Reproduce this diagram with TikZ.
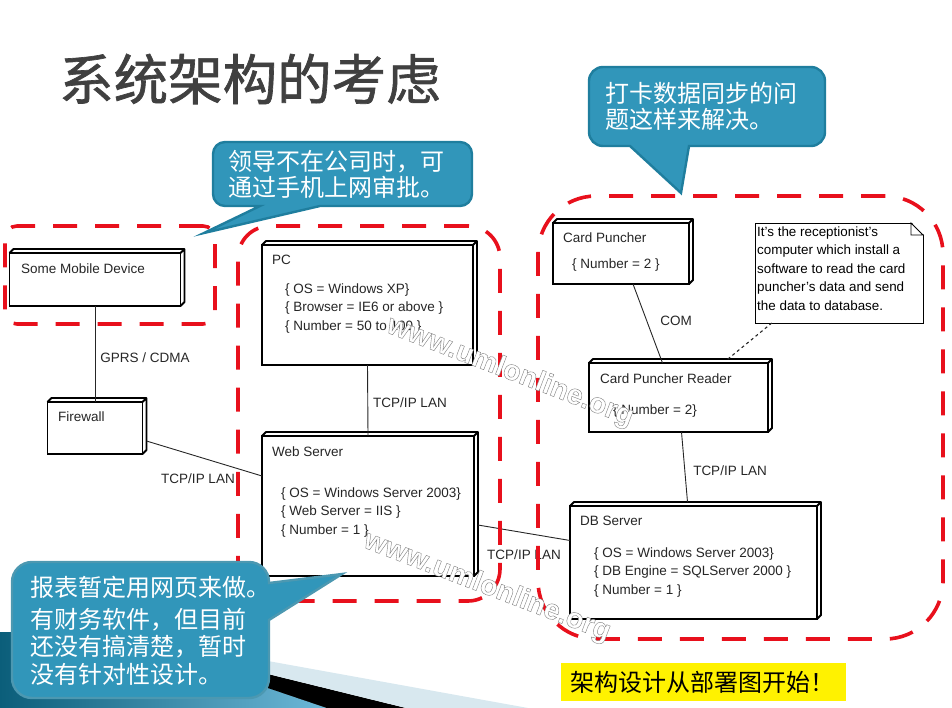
\documentclass[tikz,border=0pt]{standalone}
\usepackage{fontspec}
\usepackage{xcolor}
\setmainfont{Liberation Sans}
\newfontfamily\cjk{Noto Sans CJK SC}
\newfontfamily\cjktitle[FakeBold=1.2]{Noto Sans CJK SC}
\newfontfamily\wmfont[FakeBold=1.4]{Liberation Sans Bold}
\usetikzlibrary{calc,positioning}

\definecolor{bubblefill}{HTML}{3196BA}
\definecolor{bubbleline}{HTML}{1F7E9E}
\definecolor{zonered}{HTML}{E8101C}
\definecolor{inktext}{HTML}{262626}
\definecolor{banddark}{HTML}{0B5E7A}
\definecolor{bandlight}{HTML}{6DB8D8}
\definecolor{bandpale}{HTML}{D8E8EF}

\newcommand{\wmark}[1]{{\wmfont\special{pdf:code 0.5 0.5 0.5 RG}#1}}

\tikzset{
	device/.style={draw=black,line width=1.9pt,fill=white,inner sep=0pt,outer sep=0pt,anchor=north west},
	zone/.style={draw=zonered,line width=3.6pt,dash pattern=on 24pt off 18pt,inner sep=0pt,outer sep=0pt,anchor=north west},
	bubble/.style={draw=bubbleline,line width=2.4pt,fill=bubblefill},
	bubbletext/.style={text=white,inner sep=0pt,anchor=north west,align=left,font=\cjk\fontsize{24}{26}\selectfont},
	devtitle/.style={text=inktext,inner sep=0pt,anchor=west,font=\fontsize{13.5}{15}\selectfont},
	devattr/.style={text=inktext,inner sep=0pt,anchor=north west,align=left,font=\fontsize{13.5}{18.5}\selectfont},
	linklabel/.style={text=inktext,inner sep=0pt,font=\fontsize{13.5}{15}\selectfont},
	link/.style={draw=inktext,line width=0.9pt},
	watermark/.style={text=white,inner sep=0pt,rotate=-21,font=\fontsize{28.5}{30}\selectfont}
}

\begin{document}
\begin{tikzpicture}[x=1pt,y=-1pt]
	\useasboundingbox (0,0) rectangle (952,708);

	% slide decoration
	\fill[left color=banddark,right color=bandlight] (0,632) -- (268,632) -- (268,688) -- (327,708) -- (0,708) -- cycle;
	\fill[black] (268,674) -- (406,708) -- (327,708) -- (268,688) -- cycle;
	\fill[bandpale] (268,661) -- (528,708) -- (406,708) -- (268,674) -- cycle;

	\node[text=black!75,inner sep=0pt,anchor=west,font=\cjktitle\fontsize{54.5}{54.5}\selectfont] (title) at (59,79) {系统架构的考虑};

	% devices
	\node[device,minimum width=171pt,minimum height=53pt] (mobile) at (9.5,253) {};
	\node[device,minimum width=95pt,minimum height=52pt] (firewall) at (47.5,402) {};
	\node[device,minimum width=211pt,minimum height=120pt] (pc) at (262,245) {};
	\node[device,minimum width=212pt,minimum height=140pt] (web) at (262,436) {};
	\node[device,minimum width=136pt,minimum height=61pt] (card) at (553,223) {};
	\node[device,minimum width=179pt,minimum height=69pt] (reader) at (589,363) {};
	\node[device,minimum width=247pt,minimum height=113pt] (db) at (570,506) {};
	\foreach \dev in {mobile,firewall,pc,web,card,reader,db}
		\draw[black,line width=1.9pt,line join=round] (\dev.north west) -- ++(4,-4) -| ($(\dev.south east)+(4,-4)$) -- (\dev.south east) (\dev.north east) -- ++(4,-4);

	\node[devtitle] (mobiletitle) at (21,268.5) {Some Mobile Device};
	\node[devtitle] (firewalltitle) at (58,416.5) {Firewall};
	\node[devtitle] (pctitle) at (272,259.5) {PC};
	\node[devattr] (pcattr) at (285,283.5) {\{ OS = Windows XP\}\\\{ Browser = IE6 or above \}\\\{ Number = 50 to 100 \}};
	\node[devtitle] (webtitle) at (272,451.5) {Web Server};
	\node[devattr] (webattr) at (281,487.5) {\{ OS = Windows Server 2003\}\\\{ Web Server = IIS \}\\\{ Number = 1 \}};
	\node[devtitle] (cardtitle) at (563,237.5) {Card Puncher};
	\node[devattr] (cardattr) at (572,258.5) {\{ Number = 2 \}};
	\node[devtitle] (readertitle) at (600,378.5) {Card Puncher Reader};
	\node[devattr] (readerattr) at (613,405) {\{ Number = 2\}};
	\node[devtitle] (dbtitle) at (580,520.5) {DB Server};
	\node[devattr] (dbattr) at (594,547.5) {\{ OS = Windows Server 2003\}\\\{ DB Engine = SQLServer 2000 \}\\\{ Number = 1 \}};

	% note
	\node[draw=black,line width=0.9pt,fill=white,inner sep=0pt,outer sep=0pt,anchor=north west,minimum width=168pt,minimum height=100pt] (note) at (755,223) {};
	\fill[white] ($(note.north east)+(-12,-1)$) -- ($(note.north east)+(1,-1)$) -- ($(note.north east)+(1,12)$) -- cycle;
	\draw[black,line width=0.9pt] ($(note.north east)+(-12,0)$) -- ++(0,12) -- ++(12,0) -- cycle;
	\node[inner sep=0pt,anchor=north west,align=left,text=black,font=\fontsize{13.4}{18.5}\selectfont] (notetext) at (757,226.5) {It's the receptionist's\\computer which install a\\software to read the card\\puncher's data and send\\the data to database.};
	\draw[link,dashed,line width=1.1pt] ($(note.south west)!0.1!(note.south east)$) -- ($(reader.north)+(47,-2)$);

	% connectors
	\draw[link] (mobile.south) -- (firewall.north);
	\draw[link] (pc.south) -- (web.north);
	\draw[link] ($(firewall.east)+(4,13)$) -- ($(web.west)+(0,-30)$);
	\draw[link] ($(web.east)+(4,19)$) -- ($(db.west)+(0,-22)$);
	\draw[link] ($(card.south)+(12,0)$) -- ($(reader.north)+(-16,0)$);
	\draw[link] ($(reader.south)+(3,0)$) -- ($(db.north)+(-6,-4)$);
	\node[linklabel] (gprslabel) at (145,357.5) {GPRS / CDMA};
	\node[linklabel] (pclabel) at (410,402.5) {TCP/IP LAN};
	\node[linklabel] (firewalllabel) at (198,478.5) {TCP/IP LAN};
	\node[linklabel] (dblabel) at (524,554.5) {TCP/IP LAN};
	\node[linklabel] (readerlabel) at (730,470.5) {TCP/IP LAN};
	\node[linklabel] (comlabel) at (676,320.5) {COM};

	% red zones
	\node[zone,rounded corners=12pt,minimum width=210pt,minimum height=98pt] (mobilezone) at (5,226) {};
	\node[zone,rounded corners=32pt,minimum width=262pt,minimum height=375pt] (webzone) at (238,226) {};
	\node[zone,rounded corners=58pt,minimum width=405pt,minimum height=443pt] (dbzone) at (538,196) {};

	% bubbles
	\draw[bubble] (204,233) -- (260,206) [rounded corners=12pt] -- (213,206) -- (213,142) -- (472,142) -- (472,206) [sharp corners] -- (320,206) -- cycle;
	\node[bubbletext] (phonetext) at (228,150) {领导不在公司时，可\\通过手机上网审批。};
	\draw[bubble] (681,193) -- (630,146) [rounded corners=14pt] -- (589,146) -- (589,67) -- (825,67) -- (825,146) [sharp corners] -- (689,146) -- cycle;
	\node[bubbletext] (synctext) at (605,82) {打卡数据同步的问\\题这样来解决。};
	\draw[bubble,draw=bubbleline!80!white] (342,574) -- (269,583) [rounded corners=20pt] -- (269,562) -- (12,562) -- (12,698) -- (269,698) [sharp corners] -- (269,620) -- cycle;
	\node[bubbletext] (reporttext) at (30,576) {报表暂定用网页来做。};
	\node[bubbletext,font=\cjk\fontsize{24}{27.5}\selectfont] (financetext) at (30,608) {有财务软件，但目前\\还没有搞清楚，暂时\\没有针对性设计。};

	\node[fill=yellow,inner sep=0pt,anchor=north west,minimum width=285pt,minimum height=38pt] (slogan) at (561,663) {};
	\node[inner sep=0pt,anchor=west,text=black,font=\cjk\fontsize{24}{26}\selectfont] (slogantext) at (570,682) {架构设计从部署图开始！};

	% watermarks
	\node[watermark] (wmtop) at (510,372) {\wmark{www.umlonline.org}};
	\node[watermark] (wmbottom) at (487,587) {\wmark{www.umlonline.org}};
\end{tikzpicture}
\end{document}
